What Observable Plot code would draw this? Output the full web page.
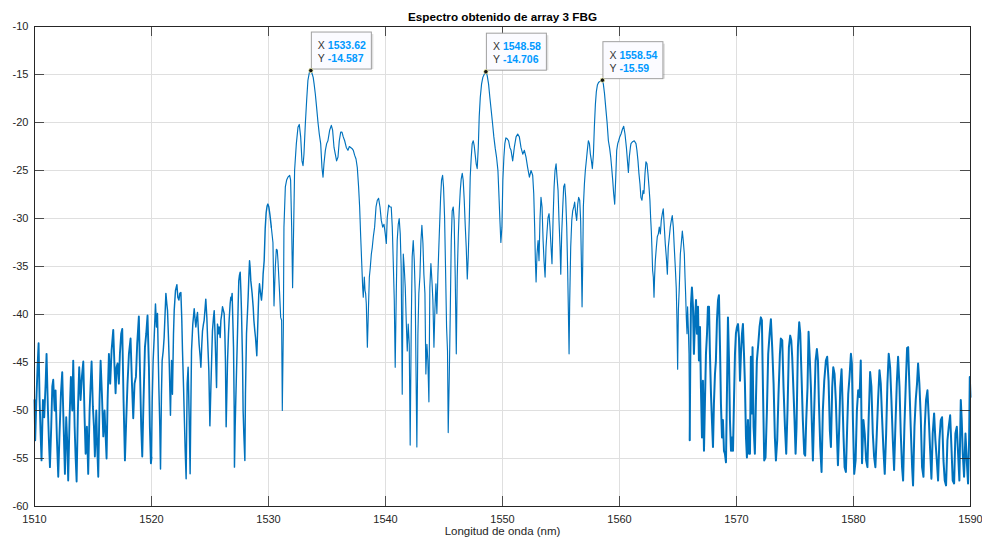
<!DOCTYPE html>
<html>
<head>
<meta charset="utf-8">
<script src="https://cdn.jsdelivr.net/npm/d3@7"></script>
<script src="https://cdn.jsdelivr.net/npm/@observablehq/plot@0.6"></script>
<style>
  html, body { margin: 0; padding: 0; background: #fff; }
  #chart svg { display: block; }
</style>
</head>
<body>
<div id="chart"></div>
<script>
const titleText = "Espectro obtenido de array 3 FBG";
const xAxisLabel = "Longitud de onda (nm)";
const xTicks = [1510, 1520, 1530, 1540, 1550, 1560, 1570, 1580, 1590];
const yTicks = [-60, -55, -50, -45, -40, -35, -30, -25, -20, -15, -10];

// Data tips (peaks)
const peakNm = [1533.62, 1548.58, 1558.54];
const peakDb = [-14.587, -14.706, -15.59];
const peakNmLabel = ["1533.62", "1548.58", "1558.54"];
const peakDbLabel = ["-14.587", "-14.706", "-15.59"];

// Spectrum: [wavelength nm, power dB]
const seg1510 = [[1510.00,-48.9],[1510.06,-53.1],[1510.15,-49.3],[1510.26,-45.5],[1510.35,-43.0],[1510.43,-48.6],[1510.52,-52.4],[1510.60,-55.2],[1510.72,-48.9],[1510.83,-50.7],[1510.95,-47.2],[1511.03,-44.1],[1511.15,-50.0],[1511.23,-53.1],[1511.32,-55.9],[1511.43,-51.7],[1511.52,-47.5],[1511.60,-46.8],[1511.72,-50.0],[1511.80,-47.9],[1511.92,-53.1],[1512.03,-56.9],[1512.14,-52.4],[1512.26,-48.2],[1512.37,-46.0],[1512.49,-51.7],[1512.60,-56.6],[1512.71,-50.7],[1512.80,-53.4],[1512.88,-57.3],[1513.00,-50.7],[1513.11,-46.5],[1513.23,-50.0],[1513.31,-44.8],[1513.43,-51.7],[1513.51,-54.8],[1513.60,-57.4],[1513.71,-50.0],[1513.82,-45.5],[1513.94,-48.9],[1514.05,-46.5],[1514.17,-44.9],[1514.28,-50.7],[1514.37,-54.5],[1514.48,-51.7],[1514.59,-56.6],[1514.71,-50.0],[1514.79,-47.5],[1514.88,-44.9],[1514.99,-49.6],[1515.08,-51.7],[1515.16,-54.8],[1515.28,-50.0],[1515.36,-53.8],[1515.45,-56.9],[1515.56,-48.9],[1515.65,-44.8],[1515.76,-48.2],[1515.88,-52.7],[1515.99,-50.0],[1516.07,-52.4],[1516.16,-55.0],[1516.25,-48.9],[1516.36,-44.1],[1516.47,-47.2],[1516.59,-43.7],[1516.73,-41.6],[1516.84,-45.5],[1516.93,-48.2],[1517.01,-45.5],[1517.10,-45.1],[1517.21,-47.2],[1517.30,-44.1],[1517.41,-42.0],[1517.50,-41.5],[1517.61,-48.9],[1517.73,-55.2],[1517.84,-51.0],[1517.95,-47.2],[1518.07,-44.1],[1518.21,-42.5],[1518.33,-47.2],[1518.44,-50.8],[1518.55,-47.2],[1518.67,-46.5],[1518.78,-43.0],[1518.92,-40.2],[1519.01,-45.5],[1519.12,-51.7],[1519.21,-54.8],[1519.32,-48.9],[1519.44,-43.4],[1519.55,-42.0],[1519.66,-40.1],[1519.78,-45.5],[1519.86,-51.7],[1519.95,-55.5]];

const seg1520 = [[1520.00,-54.9],[1520.06,-49.0],[1520.14,-44.8],[1520.23,-42.4],[1520.34,-38.9],[1520.43,-41.3],[1520.51,-39.9],[1520.63,-47.6],[1520.71,-51.7],[1520.77,-56.1],[1520.85,-48.3],[1520.91,-44.8],[1521.00,-43.8],[1521.08,-42.4],[1521.23,-37.8],[1521.31,-38.9],[1521.37,-39.6],[1521.45,-42.4],[1521.51,-44.8],[1521.62,-50.5],[1521.71,-44.8],[1521.79,-48.3],[1521.88,-42.0],[1521.94,-39.6],[1522.05,-37.5],[1522.17,-36.9],[1522.25,-38.2],[1522.34,-38.5],[1522.42,-37.8],[1522.51,-37.7],[1522.59,-40.6],[1522.65,-43.8],[1522.74,-47.6],[1522.79,-50.0],[1522.88,-54.2],[1522.96,-57.1],[1523.05,-47.2],[1523.13,-45.5],[1523.22,-50.7],[1523.30,-56.6],[1523.36,-50.0],[1523.42,-43.8],[1523.53,-41.0],[1523.65,-39.4],[1523.73,-40.6],[1523.79,-41.3],[1523.87,-40.3],[1523.93,-39.8],[1524.02,-42.0],[1524.07,-43.1],[1524.16,-44.4],[1524.22,-45.5],[1524.30,-43.1],[1524.36,-41.7],[1524.44,-41.0],[1524.50,-40.6],[1524.59,-39.2],[1524.64,-38.4],[1524.73,-40.3],[1524.79,-42.4],[1524.90,-45.8],[1524.99,-51.6],[1525.07,-47.9],[1525.16,-43.8],[1525.21,-41.7],[1525.30,-40.3],[1525.36,-39.6],[1525.41,-41.3],[1525.47,-43.8],[1525.56,-47.6],[1525.64,-41.0],[1525.73,-42.0],[1525.78,-41.3],[1525.87,-42.4],[1525.93,-40.6],[1526.01,-39.9],[1526.07,-39.2],[1526.15,-39.6],[1526.21,-39.9],[1526.27,-42.0],[1526.32,-44.8],[1526.38,-51.7],[1526.44,-48.3],[1526.50,-44.8],[1526.58,-42.0],[1526.64,-40.5],[1526.72,-38.9],[1526.78,-38.2],[1526.84,-38.5],[1526.89,-37.8],[1526.95,-40.6],[1527.01,-43.4],[1527.07,-50.0],[1527.09,-55.9],[1527.15,-51.7],[1527.21,-48.6],[1527.29,-44.8],[1527.35,-42.0],[1527.41,-38.9],[1527.46,-36.5],[1527.52,-35.9],[1527.58,-35.6],[1527.64,-37.5],[1527.69,-39.6],[1527.78,-44.8],[1527.83,-50.0],[1527.89,-52.4],[1527.98,-55.2],[1528.03,-48.3],[1528.12,-42.0],[1528.21,-39.6],[1528.26,-38.2],[1528.32,-36.1],[1528.38,-34.4],[1528.43,-35.1],[1528.49,-36.5],[1528.55,-37.2],[1528.60,-37.8],[1528.69,-39.2],[1528.75,-40.6],[1528.83,-41.7],[1528.89,-42.4],[1528.95,-43.4],[1529.00,-44.3],[1529.06,-42.0],[1529.12,-39.6],[1529.17,-37.8],[1529.23,-36.8],[1529.32,-37.8],[1529.40,-38.5],[1529.49,-37.2],[1529.54,-35.8],[1529.63,-34.4],[1529.72,-31.0],[1529.80,-29.4],[1529.88,-28.7],[1529.95,-28.5],[1530.03,-28.8],[1530.12,-29.6]];

const seg1530 = [[1530.24,-30.9],[1530.38,-32.5],[1530.47,-39.1],[1530.58,-35.1],[1530.67,-33.2],[1530.75,-33.3],[1530.81,-34.4],[1530.95,-37.8],[1531.04,-40.3],[1531.12,-40.6],[1531.18,-50.0],[1531.27,-41.3],[1531.32,-30.9],[1531.44,-26.7],[1531.55,-26.0],[1531.66,-25.7],[1531.81,-25.5],[1531.89,-26.0],[1531.98,-30.9],[1532.06,-37.2],[1532.15,-30.9],[1532.23,-25.0],[1532.38,-22.2],[1532.52,-20.5],[1532.63,-20.2],[1532.75,-21.5],[1532.86,-24.0],[1532.95,-24.5],[1533.03,-23.3],[1533.15,-20.1],[1533.26,-17.7],[1533.37,-15.6],[1533.49,-14.8],[1533.62,-14.587],[1533.72,-14.9],[1533.82,-15.3],[1533.90,-16.0],[1534.00,-17.0],[1534.11,-18.4],[1534.23,-20.0],[1534.34,-21.2],[1534.46,-22.2],[1534.57,-24.7],[1534.66,-25.7],[1534.74,-24.3],[1534.86,-22.9],[1534.97,-22.2],[1535.08,-21.9],[1535.23,-20.8],[1535.37,-20.3],[1535.48,-20.8],[1535.60,-22.6],[1535.71,-23.3],[1535.82,-24.0],[1535.94,-23.6],[1536.05,-21.9],[1536.17,-21.0],[1536.28,-21.0],[1536.39,-21.5],[1536.51,-21.9],[1536.65,-22.6],[1536.79,-22.9],[1536.91,-22.5],[1537.02,-22.6],[1537.13,-22.7],[1537.25,-22.9],[1537.36,-23.4],[1537.48,-23.8],[1537.59,-24.7],[1537.70,-26.7],[1537.79,-28.8],[1537.88,-31.9],[1537.96,-34.4],[1538.05,-37.2],[1538.10,-38.2],[1538.19,-36.1],[1538.25,-37.5],[1538.30,-37.8],[1538.36,-38.9],[1538.45,-43.4],[1538.53,-39.9],[1538.62,-36.1],[1538.70,-35.1],[1538.79,-33.7],[1538.87,-33.0],[1538.96,-31.9],[1539.07,-30.9],[1539.19,-28.8],[1539.30,-28.1],[1539.41,-27.9],[1539.53,-28.8],[1539.64,-30.2],[1539.76,-30.9],[1539.87,-30.6],[1539.98,-31.6],[1540.07,-32.6],[1540.15,-29.9],[1540.27,-28.6],[1540.38,-28.8]];

const seg1540 = [[1540.49,-28.8],[1540.58,-30.9],[1540.66,-34.4],[1540.75,-38.5],[1540.83,-45.5],[1540.92,-37.8],[1541.00,-32.3],[1541.09,-30.6],[1541.17,-30.0],[1541.26,-31.6],[1541.34,-35.1],[1541.43,-48.3],[1541.52,-33.7],[1541.60,-35.1],[1541.69,-37.2],[1541.77,-40.6],[1541.86,-43.8],[1541.94,-41.0],[1542.03,-43.1],[1542.11,-53.6],[1542.20,-41.3],[1542.28,-34.0],[1542.37,-32.3],[1542.46,-34.4],[1542.54,-37.8],[1542.63,-48.3],[1542.68,-53.8],[1542.77,-42.0],[1542.85,-37.8],[1542.94,-36.1],[1543.03,-32.3],[1543.11,-30.7],[1543.20,-32.6],[1543.28,-35.8],[1543.37,-37.8],[1543.45,-46.2],[1543.54,-43.1],[1543.62,-44.8],[1543.71,-49.1],[1543.79,-37.2],[1543.88,-34.7],[1543.97,-36.5],[1544.05,-38.5],[1544.14,-43.4],[1544.22,-39.6],[1544.31,-36.8],[1544.39,-39.9],[1544.48,-35.8],[1544.59,-31.9],[1544.71,-27.8],[1544.79,-26.0],[1544.88,-25.5],[1544.96,-26.7],[1545.05,-29.9],[1545.13,-35.1],[1545.22,-41.3],[1545.30,-43.8],[1545.36,-52.3],[1545.45,-46.5],[1545.53,-40.3],[1545.62,-32.3],[1545.70,-29.2],[1545.79,-28.8],[1545.87,-30.2],[1545.96,-36.1],[1546.05,-44.1],[1546.13,-36.1],[1546.22,-31.9],[1546.30,-29.2],[1546.39,-27.1],[1546.47,-25.9],[1546.56,-25.3],[1546.64,-26.0],[1546.73,-28.1],[1546.81,-30.6],[1546.90,-33.0],[1546.99,-36.3],[1547.07,-34.0],[1547.16,-30.2],[1547.24,-25.7],[1547.33,-23.6],[1547.41,-22.2],[1547.50,-21.9],[1547.58,-22.4],[1547.67,-23.4],[1547.75,-24.3],[1547.84,-24.8],[1547.93,-22.6],[1548.01,-19.4],[1548.10,-17.4],[1548.21,-16.0],[1548.32,-15.3],[1548.47,-14.9],[1548.58,-14.706],[1548.69,-15.1],[1548.81,-16.0],[1548.92,-17.4],[1549.04,-18.8],[1549.15,-20.1],[1549.26,-21.5],[1549.38,-22.7],[1549.49,-23.6],[1549.61,-25.0],[1549.69,-27.4],[1549.78,-30.2],[1549.86,-32.5],[1549.95,-30.9],[1550.03,-26.0],[1550.12,-23.6],[1550.20,-22.2],[1550.29,-21.6],[1550.40,-21.7],[1550.52,-21.9],[1550.63,-22.6]];

const seg1550 = [[1550.73,-22.9],[1550.87,-24.0],[1551.01,-22.6],[1551.16,-21.5],[1551.30,-21.2],[1551.44,-21.5],[1551.58,-22.6],[1551.73,-23.3],[1551.87,-22.9],[1552.01,-23.6],[1552.15,-24.7],[1552.30,-25.7],[1552.44,-25.0],[1552.58,-25.5],[1552.67,-27.4],[1552.75,-30.9],[1552.81,-34.4],[1552.87,-36.6],[1552.95,-33.7],[1553.04,-32.3],[1553.12,-34.4],[1553.21,-29.9],[1553.29,-27.8],[1553.38,-28.8],[1553.47,-32.3],[1553.55,-34.4],[1553.64,-36.1],[1553.72,-33.0],[1553.81,-31.3],[1553.89,-29.9],[1553.98,-29.5],[1554.06,-30.9],[1554.15,-33.0],[1554.23,-34.7],[1554.32,-30.2],[1554.41,-26.7],[1554.49,-25.0],[1554.58,-24.3],[1554.66,-25.7],[1554.75,-27.1],[1554.83,-30.2],[1554.92,-33.0],[1554.98,-35.8],[1555.06,-31.6],[1555.15,-28.8],[1555.23,-26.7],[1555.32,-26.4],[1555.40,-27.8],[1555.49,-30.9],[1555.57,-35.4],[1555.63,-39.6],[1555.69,-44.1],[1555.74,-38.9],[1555.83,-33.0],[1555.92,-30.2],[1556.00,-29.2],[1556.09,-28.8],[1556.17,-28.3],[1556.26,-29.5],[1556.34,-30.2],[1556.43,-28.5],[1556.51,-27.8],[1556.60,-28.1],[1556.68,-30.2],[1556.74,-34.4],[1556.80,-39.2],[1556.86,-34.4],[1556.91,-28.8],[1557.00,-26.4],[1557.08,-25.0],[1557.17,-23.9],[1557.25,-22.9],[1557.34,-21.9],[1557.43,-22.2],[1557.51,-23.3],[1557.60,-24.0],[1557.68,-24.8],[1557.77,-23.3],[1557.85,-20.5],[1557.94,-18.1],[1558.02,-16.8],[1558.11,-16.1],[1558.22,-15.8],[1558.37,-15.7],[1558.54,-15.59],[1558.62,-16.0],[1558.72,-17.0],[1558.82,-18.4],[1558.94,-20.0],[1559.05,-21.9],[1559.16,-22.7],[1559.25,-23.6],[1559.33,-24.7],[1559.42,-26.0],[1559.50,-27.4],[1559.59,-28.5],[1559.68,-25.7],[1559.76,-22.9],[1559.85,-22.2],[1559.93,-21.9],[1560.02,-21.5],[1560.13,-21.2],[1560.25,-20.7],[1560.36,-20.4],[1560.47,-21.2],[1560.59,-22.6],[1560.70,-24.3],[1560.76,-25.2],[1560.84,-23.6],[1560.93,-22.6]];

const seg1561 = [[1560.98,-22.2],[1561.12,-22.0],[1561.26,-21.9],[1561.41,-22.2],[1561.49,-22.9],[1561.58,-24.0],[1561.66,-25.3],[1561.75,-26.4],[1561.83,-27.8],[1561.92,-28.1],[1562.01,-27.1],[1562.09,-27.4],[1562.18,-25.3],[1562.26,-24.1],[1562.35,-24.3],[1562.43,-25.3],[1562.52,-26.7],[1562.60,-28.1],[1562.66,-29.9],[1562.72,-31.3],[1562.77,-33.0],[1562.83,-35.4],[1562.89,-36.1],[1562.95,-38.2],[1563.00,-36.1],[1563.06,-34.4],[1563.15,-33.0],[1563.23,-31.9],[1563.32,-31.6],[1563.40,-30.9],[1563.49,-31.6],[1563.57,-30.2],[1563.66,-29.5],[1563.74,-29.0],[1563.83,-30.9],[1563.91,-32.6],[1564.00,-34.0],[1564.09,-35.8],[1564.17,-33.0],[1564.26,-31.9],[1564.34,-30.9],[1564.43,-30.2],[1564.51,-29.7],[1564.60,-30.9],[1564.68,-33.0],[1564.77,-35.1],[1564.85,-37.2],[1564.91,-40.6],[1564.97,-45.7],[1565.03,-39.6],[1565.11,-37.2],[1565.20,-33.7],[1565.28,-32.6],[1565.37,-31.3],[1565.45,-32.3],[1565.54,-33.7],[1565.60,-36.1],[1565.65,-37.8],[1565.71,-40.3],[1565.77,-42.0],[1565.82,-39.2],[1565.88,-41.3],[1565.94,-44.1],[1566.00,-53.1],[1566.05,-44.8],[1566.11,-38.9],[1566.19,-37.2],[1566.28,-39.2],[1566.36,-44.1],[1566.45,-40.6],[1566.54,-38.5],[1566.62,-42.0],[1566.71,-39.2],[1566.79,-44.8],[1566.88,-41.3],[1566.96,-47.6],[1567.05,-52.8],[1567.13,-46.9],[1567.22,-54.2],[1567.30,-49.3],[1567.39,-44.1],[1567.48,-42.0],[1567.56,-39.2],[1567.65,-39.2],[1567.73,-44.1],[1567.82,-48.3],[1567.90,-51.0],[1567.99,-53.8],[1568.07,-49.3],[1568.16,-46.2],[1568.24,-44.8],[1568.33,-40.6],[1568.42,-38.5],[1568.50,-38.0],[1568.59,-43.4],[1568.67,-49.3],[1568.76,-52.8],[1568.84,-51.0],[1568.93,-54.2],[1569.01,-54.5],[1569.10,-55.4],[1569.19,-47.6],[1569.27,-40.3],[1569.36,-44.8],[1569.44,-51.0],[1569.53,-54.2],[1569.61,-52.8],[1569.70,-54.2],[1569.78,-49.3],[1569.87,-44.1],[1569.95,-42.0],[1570.04,-41.3],[1570.13,-41.0],[1570.21,-42.4],[1570.30,-46.9],[1570.38,-44.1],[1570.47,-42.0],[1570.55,-41.0],[1570.64,-44.1],[1570.72,-47.2],[1570.81,-52.8],[1570.89,-54.9],[1570.98,-51.0],[1571.07,-54.5],[1571.15,-54.5]];

const seg1571 = [[1571.23,-44.4],[1571.32,-50.3],[1571.37,-43.4],[1571.46,-51.7],[1571.57,-54.5],[1571.66,-49.0],[1571.74,-44.8],[1571.86,-43.1],[1571.97,-41.3],[1572.08,-40.3],[1572.17,-40.6],[1572.26,-47.6],[1572.37,-55.2],[1572.48,-54.9],[1572.60,-50.0],[1572.71,-44.1],[1572.83,-42.0],[1572.94,-40.5],[1573.05,-43.4],[1573.17,-47.2],[1573.28,-52.8],[1573.37,-55.2],[1573.48,-53.1],[1573.59,-48.3],[1573.71,-44.1],[1573.79,-42.5],[1573.91,-42.7],[1574.02,-47.6],[1574.14,-51.7],[1574.25,-54.5],[1574.36,-50.0],[1574.48,-43.4],[1574.59,-42.2],[1574.68,-42.7],[1574.76,-44.4],[1574.88,-48.3],[1574.96,-51.0],[1575.05,-54.5],[1575.13,-51.7],[1575.25,-43.4],[1575.36,-40.8],[1575.45,-42.0],[1575.56,-46.5],[1575.67,-51.0],[1575.79,-54.5],[1575.87,-54.7],[1575.96,-51.0],[1576.07,-47.6],[1576.16,-41.8],[1576.27,-44.8],[1576.36,-47.6],[1576.44,-51.4],[1576.53,-55.2],[1576.64,-50.0],[1576.76,-44.8],[1576.87,-43.6],[1576.96,-44.8],[1577.04,-49.0],[1577.16,-53.8],[1577.27,-56.4],[1577.38,-50.0],[1577.50,-46.9],[1577.64,-44.8],[1577.75,-44.4],[1577.87,-46.9],[1577.98,-52.1],[1578.07,-53.8],[1578.18,-47.6],[1578.27,-45.5],[1578.38,-46.2],[1578.49,-49.0],[1578.58,-52.4],[1578.67,-55.7],[1578.78,-51.7],[1578.87,-47.6],[1578.98,-45.7],[1579.06,-49.0],[1579.15,-52.8],[1579.24,-55.9],[1579.35,-56.4],[1579.46,-51.7],[1579.55,-48.3],[1579.66,-46.5],[1579.78,-44.1],[1579.86,-45.1],[1579.95,-51.0],[1580.06,-56.6],[1580.18,-55.2],[1580.29,-50.0],[1580.40,-47.9],[1580.52,-48.6]];

const seg1580 = [[1580.62,-44.8],[1580.73,-55.5],[1580.85,-51.0],[1580.96,-52.4],[1581.08,-55.2],[1581.19,-55.9],[1581.30,-50.7],[1581.42,-46.0],[1581.53,-47.5],[1581.65,-52.4],[1581.76,-54.8],[1581.87,-55.9],[1581.99,-52.4],[1582.10,-48.9],[1582.22,-45.8],[1582.33,-47.2],[1582.44,-50.7],[1582.56,-54.1],[1582.67,-56.6],[1582.79,-52.4],[1582.90,-47.2],[1583.01,-44.1],[1583.13,-45.5],[1583.24,-48.9],[1583.36,-53.1],[1583.47,-56.2],[1583.58,-51.7],[1583.70,-47.2],[1583.81,-44.4],[1583.93,-47.5],[1584.04,-52.4],[1584.15,-55.9],[1584.24,-57.3],[1584.35,-51.7],[1584.47,-47.2],[1584.58,-43.5],[1584.67,-43.4],[1584.78,-47.5],[1584.89,-51.7],[1585.01,-55.9],[1585.09,-57.8],[1585.21,-51.7],[1585.32,-48.9],[1585.43,-47.2],[1585.52,-45.1],[1585.63,-47.2],[1585.75,-50.7],[1585.86,-55.9],[1585.98,-56.9],[1586.09,-51.7],[1586.20,-48.9],[1586.32,-47.9],[1586.43,-50.7],[1586.55,-54.1],[1586.66,-57.1],[1586.77,-52.4],[1586.89,-50.3],[1587.00,-53.1],[1587.12,-55.2],[1587.23,-57.3],[1587.34,-53.1],[1587.46,-51.0],[1587.57,-50.7],[1587.69,-55.2],[1587.80,-57.3],[1587.91,-57.8],[1588.03,-53.1],[1588.14,-51.7],[1588.26,-50.5],[1588.37,-53.8],[1588.48,-57.3],[1588.60,-57.6],[1588.71,-52.4],[1588.83,-51.7],[1588.94,-54.5],[1589.05,-57.3],[1589.17,-48.9],[1589.25,-51.0],[1589.34,-54.5],[1589.45,-56.9],[1589.57,-52.4],[1589.68,-55.2],[1589.79,-57.6],[1589.88,-53.1],[1589.94,-46.5],[1590.00,-48.6]];

const spectrum = [].concat(seg1510, seg1520, seg1530, seg1540, seg1550, seg1561, seg1571, seg1580)
  .map(([nm, db]) => ({nm, db}));
const peaks = peakNm.map((nm, i) => ({nm, db: peakDb[i], xl: peakNmLabel[i], yl: peakDbLabel[i]}));

// the noisy parts of the trace are drawn with a heavier pen, as the dense trace looks in the original
const noisyLeft = spectrum.filter(d => d.nm <= 1520.0);
const semiLeft = spectrum.filter(d => d.nm >= 1520.0 && d.nm <= 1530.24);
const clean = spectrum.filter(d => d.nm >= 1530.24 && d.nm <= 1566.0);
const noisyRight = spectrum.filter(d => d.nm >= 1566.0);

const axisColor = "#262626";
const gridColor = "#dfdfdf";
const lineColor = "#0072BD";
const tipBlue = "#0099ff";
const font = "'Liberation Sans', Arial, Helvetica, sans-serif";

const chart = Plot.plot({
  width: 982,
  height: 541,
  marginLeft: 34,
  marginRight: 12,
  marginTop: 26,
  marginBottom: 35,
  style: {fontFamily: font, fontSize: "11px", color: axisColor, background: "#fff", overflow: "visible"},
  x: {domain: [1510, 1590], ticks: xTicks, tickSize: 0, tickPadding: 9, tickFormat: d => String(d), label: null},
  y: {domain: [-60, -10], ticks: yTicks, tickSize: 0, tickPadding: 6, tickFormat: d => String(d), label: null},
  marks: [
    Plot.ruleX(xTicks, {x: d => d, stroke: gridColor, strokeWidth: 1}),
    Plot.ruleY(yTicks, {y: d => d, stroke: gridColor, strokeWidth: 1}),
    Plot.line(noisyLeft, {x: "nm", y: "db", stroke: lineColor, strokeWidth: 1.9}),
    Plot.line(semiLeft, {x: "nm", y: "db", stroke: lineColor, strokeWidth: 1.45}),
    Plot.line(clean, {x: "nm", y: "db", stroke: lineColor, strokeWidth: 1.15}),
    Plot.line(noisyRight, {x: "nm", y: "db", stroke: lineColor, strokeWidth: 2.0}),
    // inward ticks on all four sides
    Plot.ruleX(xTicks, {x: d => d, y1: -60, y2: -60, insetTop: -10, stroke: axisColor, strokeWidth: 0.8}),
    Plot.ruleX(xTicks, {x: d => d, y1: -10, y2: -10, insetBottom: -10, stroke: axisColor, strokeWidth: 0.8}),
    Plot.ruleY(yTicks, {y: d => d, x1: 1510, x2: 1510, insetRight: -10, stroke: axisColor, strokeWidth: 0.8}),
    Plot.ruleY(yTicks, {y: d => d, x1: 1590, x2: 1590, insetLeft: -10, stroke: axisColor, strokeWidth: 0.8}),
    Plot.frame({stroke: axisColor, strokeWidth: 1}),
    // title and axis label
    Plot.text([titleText], {text: d => d, frameAnchor: "top", dy: -14, fontWeight: "bold", fontSize: 11.7, fill: "#000"}),
    Plot.text([xAxisLabel], {text: d => d, frameAnchor: "bottom", dy: 28, fontSize: 11.5, fill: axisColor}),
    // data tips
    Plot.rect(peaks, {x1: "nm", x2: "nm", y1: "db", y2: "db", insetLeft: 3, insetRight: -63, insetTop: -36, insetBottom: 1, fill: "#000", fillOpacity: 0.12}),
    Plot.rect(peaks, {x1: "nm", x2: "nm", y1: "db", y2: "db", insetLeft: 1, insetRight: -61, insetTop: -38, insetBottom: 1, fill: "#fbfbff", stroke: "#a0a0a0", strokeWidth: 1}),
    Plot.dot(peaks, {x: "nm", y: "db", r: 2.2, fill: "#151515", stroke: "#ffffb0", strokeWidth: 0.7}),
    Plot.text(peaks, {x: "nm", y: "db", text: () => "X", dx: 7, dy: -25, textAnchor: "start", fontSize: 10.5, fill: "#333"}),
    Plot.text(peaks, {x: "nm", y: "db", text: () => "Y", dx: 7, dy: -12, textAnchor: "start", fontSize: 10.5, fill: "#333"}),
    Plot.text(peaks, {x: "nm", y: "db", text: "xl", dx: 17, dy: -25, textAnchor: "start", fontSize: 10.5, fontWeight: "bold", fill: tipBlue}),
    Plot.text(peaks, {x: "nm", y: "db", text: "yl", dx: 17, dy: -12, textAnchor: "start", fontSize: 10.5, fontWeight: "bold", fill: tipBlue})
  ]
});
document.getElementById("chart").appendChild(chart);
</script>
</body>
</html>
